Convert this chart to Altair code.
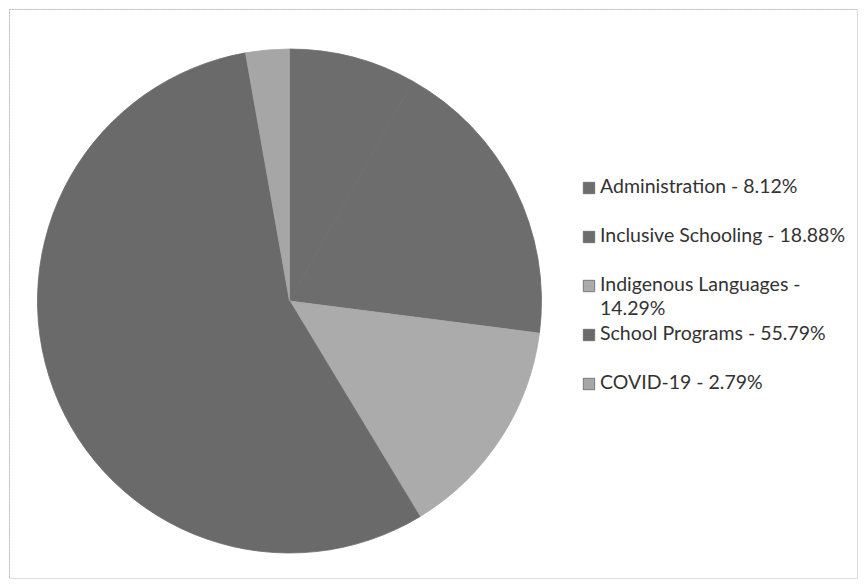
import altair as alt
import pandas as pd

categories = ["Administration", "Inclusive Schooling", "Indigenous Languages", "School Programs", "COVID-19"]
percents = [8.12, 18.88, 14.29, 55.79, 2.79]
legend_labels = ["Administration - 8.12%", "Inclusive Schooling - 18.88%",
                 "Indigenous Languages -\n14.29%", "School Programs - 55.79%", "COVID-19 - 2.79%"]
colors = ["#6d6d6d", "#6d6d6d", "#ababab", "#6a6a6a", "#a6a6a6"]

df = pd.DataFrame({"category": categories, "value": percents, "order": range(len(categories)),
                   "label": legend_labels, "row": range(len(categories))})

scale = alt.Scale(domain=categories, range=colors)
color = alt.Color("category:N", scale=scale, legend=None)

pie = alt.Chart(df).mark_arc(outerRadius=252, strokeWidth=0.8).encode(
    theta=alt.Theta("value:Q", stack=True),
    order=alt.Order("order:Q"),
    color=color,
    stroke=alt.Stroke("category:N", scale=scale, legend=None),
    x=alt.value(280.5),
    y=alt.value(292),
)

yrow = alt.Y("row:Q", scale=alt.Scale(domain=[0, 4], range=[184, 380]), axis=None)

squares = alt.Chart(df).mark_square(size=130, opacity=1, strokeWidth=0.8).encode(
    x=alt.value(580), y=yrow, yOffset=alt.value(-5), color=color, stroke=alt.value("#666"))

texts = alt.Chart(df).mark_text(align="left", baseline="alphabetic", font="Lato", fontSize=19.5,
                                color="#333333", lineBreak="\n", lineHeight=24).encode(
    x=alt.value(591), y=yrow, text="label:N")

frame_top = alt.Chart(df).mark_rule(color="#c4c4c4", strokeDash=[2, 1], strokeWidth=1).encode(
    x=alt.value(0), x2=alt.value(850), y=alt.value(0.5))
frame_left = alt.Chart(df).mark_rule(color="#c4c4c4", strokeDash=[2, 1], strokeWidth=1).encode(
    x=alt.value(0.5), y=alt.value(0), y2=alt.value(571))

chart = alt.layer(frame_top, frame_left, pie, squares, texts).properties(
    width=850, height=571, padding=0,
    autosize=alt.AutoSizeParams(type="fit", contains="padding"),
).configure_view(strokeOpacity=0, strokeWidth=0).configure(background="white")

chart.save("out.html", embed_options={"renderer": "svg", "actions": False})
